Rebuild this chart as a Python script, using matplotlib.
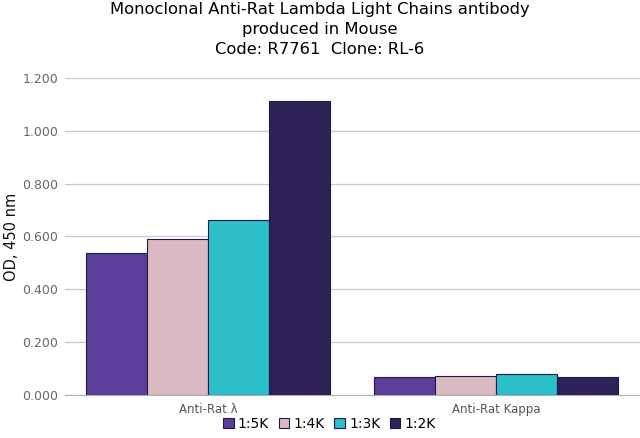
import numpy as np
import matplotlib.pyplot as plt
from matplotlib.ticker import FormatStrFormatter

groups = ['Anti-Rat λ', 'Anti-Rat Kappa']
dilutions = ['1:5K', '1:4K', '1:3K', '1:2K']
od_5k = [0.537, 0.068]
od_4k = [0.590, 0.072]
od_3k = [0.662, 0.079]
od_2k = [1.113, 0.068]
colors = ['#5b3f9a', '#dbb9c3', '#2cbfca', '#2f2259']

fig = plt.figure(figsize=(6.4, 4.38), dpi=100)
ax = fig.add_axes([65/640, 43/438, 575/640, 317/438])

x = np.arange(len(groups))
w = 61/288
series = [od_5k, od_4k, od_3k, od_2k]
for i, vals in enumerate(series):
    ax.bar(x + (i - 1.5)*w, vals, w, color=colors[i], edgecolor='#1f1a45',
           linewidth=0.8, label=dilutions[i], zorder=3)

ax.set_xlim(-143/288, 1.5)
ax.set_ylim(0, 1.2)
ax.set_yticks(np.arange(0, 1.21, 0.2))
ax.yaxis.set_major_formatter(FormatStrFormatter('%.3f'))
ax.set_xticks(x)
ax.set_xticklabels(groups)
ax.tick_params(axis='y', length=0, labelsize=9, labelcolor='#666666', pad=5)
ax.tick_params(axis='x', length=0, labelsize=8.5, labelcolor='#555555', pad=6)
ax.grid(axis='y', color='#c8c8c8', linewidth=0.9, zorder=0)
for s in ['top', 'right', 'left']:
    ax.spines[s].set_visible(False)
ax.spines['bottom'].set_color('#b0b0b0')
ax.set_ylabel('OD, 450 nm', fontsize=10.5, color='#111111')
ax.yaxis.set_label_coords(-46/575, 0.5)

fig.suptitle('Monoclonal Anti-Rat Lambda Light Chains antibody\nproduced in Mouse\nCode: R7761  Clone: RL-6',
             fontsize=11.8, y=0.995, linespacing=1.42)
fig.legend(loc='lower center', bbox_to_anchor=(0.515, -0.012), ncol=4, frameon=False,
           fontsize=10, handlelength=0.75, handleheight=0.75, handletextpad=0.3,
           columnspacing=0.7)

fig.savefig('out.png', dpi=100)
